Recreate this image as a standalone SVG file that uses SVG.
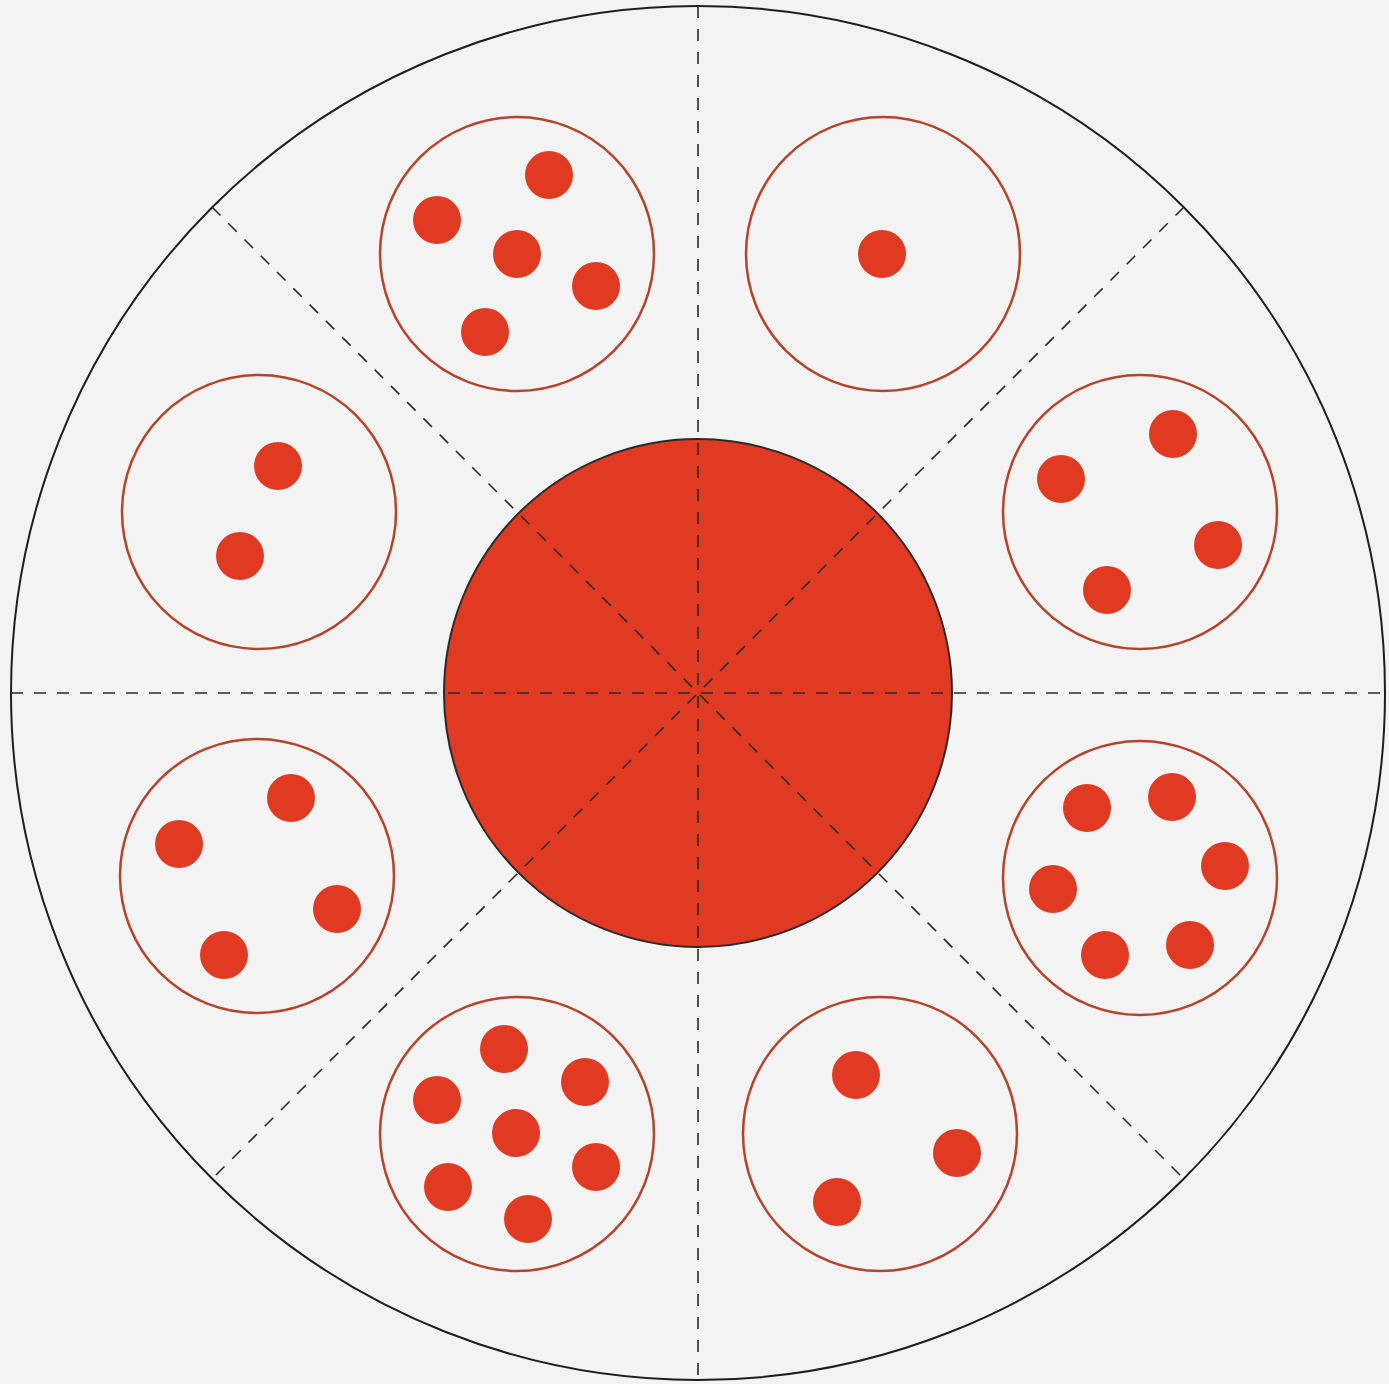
<svg xmlns="http://www.w3.org/2000/svg" width="1389" height="1384" viewBox="0 0 1389 1384">
<style>
.outer{fill:#f3f3f3;stroke:#1e1e1e;stroke-width:2}
.hub{fill:#e03a22;stroke:#2a2a2a;stroke-width:2}
.dash{stroke:#2a2a2a;stroke-width:1.6;stroke-dasharray:12 11;fill:none}
.ring{fill:none;stroke:#b5442c;stroke-width:2.5}
.dot{fill:#e03a22}
</style>
<rect width="1389" height="1384" fill="#f3f3f3"/>
<g id="outer-circle"><circle class="outer" cx="698" cy="693" r="687"/></g>
<g id="hub"><circle class="hub" cx="698" cy="693" r="254"/></g>
<g id="connectors">
<line class="dash" x1="698" y1="6" x2="698" y2="1380"/>
<line class="dash" x1="11" y1="693" x2="1385" y2="693"/>
<line class="dash" x1="212" y1="207" x2="1184" y2="1179"/>
<line class="dash" x1="1184" y1="207" x2="212" y2="1179"/>
</g>
<g id="c1"><circle class="ring" cx="517" cy="254" r="137"/>
<circle class="dot" cx="549" cy="175" r="24"/><circle class="dot" cx="437" cy="220" r="24"/><circle class="dot" cx="517" cy="254" r="24"/><circle class="dot" cx="596" cy="286" r="24"/><circle class="dot" cx="485" cy="332" r="24"/></g>
<g id="c2"><circle class="ring" cx="883" cy="254" r="137"/>
<circle class="dot" cx="882" cy="254" r="24"/></g>
<g id="c3"><circle class="ring" cx="1140" cy="512" r="137"/>
<circle class="dot" cx="1173" cy="434" r="24"/><circle class="dot" cx="1061" cy="479" r="24"/><circle class="dot" cx="1218" cy="545" r="24"/><circle class="dot" cx="1107" cy="590" r="24"/></g>
<g id="c4"><circle class="ring" cx="1140" cy="878" r="137"/>
<circle class="dot" cx="1087" cy="808" r="24"/><circle class="dot" cx="1172" cy="797" r="24"/><circle class="dot" cx="1225" cy="866" r="24"/><circle class="dot" cx="1053" cy="889" r="24"/><circle class="dot" cx="1105" cy="955" r="24"/><circle class="dot" cx="1190" cy="945" r="24"/></g>
<g id="c5"><circle class="ring" cx="880" cy="1134" r="137"/>
<circle class="dot" cx="856" cy="1075" r="24"/><circle class="dot" cx="957" cy="1153" r="24"/><circle class="dot" cx="837" cy="1202" r="24"/></g>
<g id="c6"><circle class="ring" cx="517" cy="1134" r="137"/>
<circle class="dot" cx="504" cy="1049" r="24"/><circle class="dot" cx="437" cy="1100" r="24"/><circle class="dot" cx="585" cy="1082" r="24"/><circle class="dot" cx="516" cy="1133" r="24"/><circle class="dot" cx="448" cy="1187" r="24"/><circle class="dot" cx="596" cy="1167" r="24"/><circle class="dot" cx="528" cy="1219" r="24"/></g>
<g id="c7"><circle class="ring" cx="257" cy="876" r="137"/>
<circle class="dot" cx="291" cy="798" r="24"/><circle class="dot" cx="179" cy="844" r="24"/><circle class="dot" cx="337" cy="909" r="24"/><circle class="dot" cx="224" cy="955" r="24"/></g>
<g id="c8"><circle class="ring" cx="259" cy="512" r="137"/>
<circle class="dot" cx="278" cy="466" r="24"/><circle class="dot" cx="240" cy="556" r="24"/></g>
</svg>
